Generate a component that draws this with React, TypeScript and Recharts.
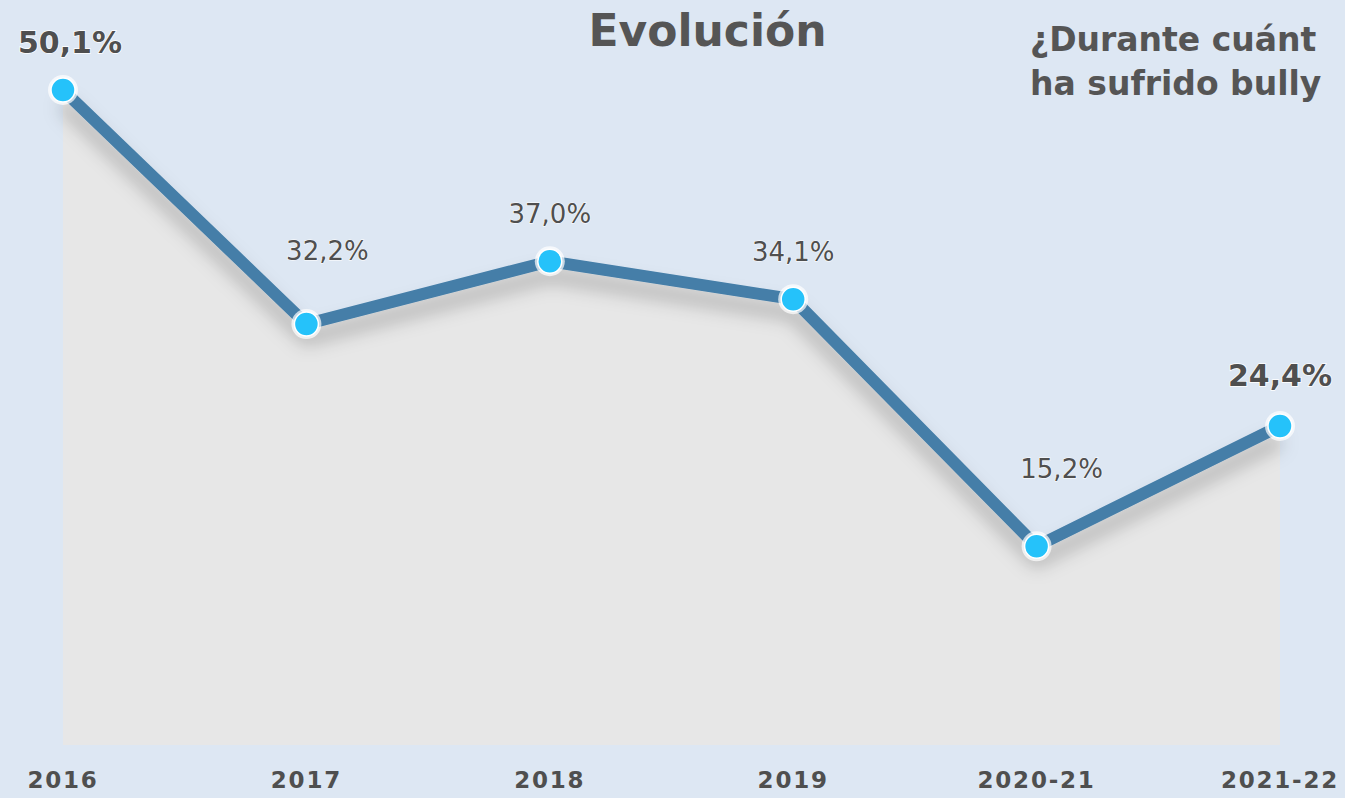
import React from 'react';
import { ComposedChart, Area, Line, XAxis, YAxis, LabelList } from 'recharts';

const years = ['2016', '2017', '2018', '2019', '2020-21', '2021-22'];
const percents = [50.1, 32.2, 37.0, 34.1, 15.2, 24.4];
const highlighted = [true, false, false, false, false, true];

// label placement tweaks per point (dx, dy from the dot)
const labelDx = [7, 21, 0, 0, 25, 0];
const labelDy = [-46, -72, -46, -46, -76, -48];

const data = years.map((year, i) => ({ year, value: percents[i] }));

const FONT = '"DejaVu Sans", "Open Sans", sans-serif';
const TEXT = '#4f4f4f';

function PointLabel(props: any) {
    const { x, y, index, value } = props;
    const big = highlighted[index];
    return (
        <text
            x={x + labelDx[index]}
            y={y + labelDy[index]}
            textAnchor="middle"
            dominantBaseline="middle"
            fontFamily={FONT}
            fontWeight={big ? 700 : 400}
            fontSize={big ? 30 : 26}
            fill={TEXT}
            stroke="#ffffff"
            strokeWidth={big ? 1.5 : 1}
            paintOrder="stroke"
        >
            {value.toFixed(1).replace('.', ',')}%
        </text>
    );
}

function Dot(props: any) {
    const { cx, cy, index } = props;
    if (cx == null || cy == null) return null;
    return (
        <g key={index}>
            <circle cx={cx} cy={cy} r={15} fill="#ffffff" opacity={0.7} />
            <circle cx={cx} cy={cy} r={12} fill="#25c2fa" stroke="#ffffff" strokeWidth={1.5} />
        </g>
    );
}

function YearTick(props: any) {
    const { x, y, payload } = props;
    return (
        <text
            x={x}
            y={y + 28}
            textAnchor="middle"
            dominantBaseline="middle"
            fontFamily={FONT}
            fontWeight={700}
            fontSize={23}
            letterSpacing={1.8}
            fill={TEXT}
        >
            {payload.value}
        </text>
    );
}

export default function App() {
    return (
        <div
            style={{
                position: 'absolute',
                left: 0,
                top: 0,
                width: 1345,
                height: 798,
                overflow: 'hidden',
                background: '#dde7f3',
            }}
        >
            <ComposedChart
                width={1345}
                height={798}
                data={data}
                margin={{ top: 90, right: 65, bottom: 0, left: 63 }}
            >
                <defs>
                    <filter id="lineShadow" filterUnits="userSpaceOnUse" x="0" y="0" width="1345" height="798">
                        <feDropShadow dx="0" dy="14" stdDeviation="9" floodColor="#000000" floodOpacity="0.25" />
                    </filter>
                </defs>
                <XAxis
                    dataKey="year"
                    axisLine={false}
                    tickLine={false}
                    interval={0}
                    height={53}
                    tick={<YearTick />}
                />
                <YAxis hide domain={[0, 50.1]} />
                <Area
                    type="linear"
                    dataKey="value"
                    stroke="none"
                    fill="#e7e7e7"
                    fillOpacity={1}
                    isAnimationActive={false}
                />
                <Line
                    type="linear"
                    dataKey="value"
                    stroke="#457ea8"
                    strokeWidth={12}
                    filter="url(#lineShadow)"
                    dot={false}
                    activeDot={false}
                    isAnimationActive={false}
                />
                <Line
                    type="linear"
                    dataKey="value"
                    stroke="none"
                    dot={<Dot />}
                    activeDot={false}
                    isAnimationActive={false}
                >
                    <LabelList dataKey="value" content={<PointLabel />} />
                </Line>
            </ComposedChart>
            <div
                style={{
                    position: 'absolute',
                    left: 0,
                    width: 1415,
                    top: 5,
                    textAlign: 'center',
                    fontFamily: FONT,
                    fontWeight: 700,
                    fontSize: 44,
                    color: '#555555',
                }}
            >
                Evolución
            </div>
            <div
                style={{
                    position: 'absolute',
                    left: 1030,
                    top: 18,
                    whiteSpace: 'nowrap',
                    fontFamily: FONT,
                    fontWeight: 700,
                    fontSize: 33,
                    lineHeight: '44px',
                    color: '#555555',
                }}
            >
                ¿Durante cuánt
                <br />
                ha sufrido bully
            </div>
        </div>
    );
}
